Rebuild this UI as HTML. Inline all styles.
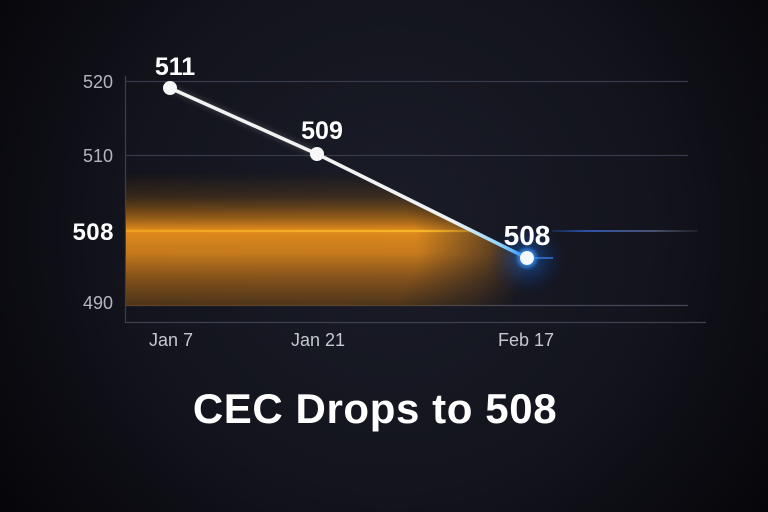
<!DOCTYPE html>
<html><head><meta charset="utf-8"><style>
html,body{margin:0;padding:0;background:#0b0b10;}
svg{display:block;}
text{font-family:"Liberation Sans",sans-serif;}
</style></head><body>
<svg width="768" height="512" viewBox="0 0 768 512" xmlns="http://www.w3.org/2000/svg">
<defs>
  <radialGradient id="bg" cx="390" cy="230" r="470" gradientUnits="userSpaceOnUse">
    <stop offset="0" stop-color="#1a1c28"/>
    <stop offset="0.55" stop-color="#13141d"/>
    <stop offset="1" stop-color="#06060a"/>
  </radialGradient>
  <linearGradient id="og" x1="0" y1="172" x2="0" y2="307" gradientUnits="userSpaceOnUse">
    <stop offset="0" stop-color="#7a4a10" stop-opacity="0"/>
    <stop offset="0.18" stop-color="#8a5512" stop-opacity="0.3"/>
    <stop offset="0.33" stop-color="#b56e16" stop-opacity="0.75"/>
    <stop offset="0.43" stop-color="#e08b1d" stop-opacity="1"/>
    <stop offset="0.6" stop-color="#cf7f1c" stop-opacity="0.95"/>
    <stop offset="0.8" stop-color="#9a5e1a" stop-opacity="0.8"/>
    <stop offset="1" stop-color="#634016" stop-opacity="0.7"/>
  </linearGradient>
  <radialGradient id="hm" cx="250" cy="250" r="280" fx="250" fy="250" gradientUnits="userSpaceOnUse" gradientTransform="translate(250 250) scale(1 0.6) translate(-250 -250)">
    <stop offset="0" stop-color="#fff" stop-opacity="1"/>
    <stop offset="0.6" stop-color="#fff" stop-opacity="1"/>
    <stop offset="0.85" stop-color="#fff" stop-opacity="0.45"/>
    <stop offset="1" stop-color="#fff" stop-opacity="0"/>
  </radialGradient>
  <mask id="m1"><rect x="0" y="0" width="768" height="512" fill="url(#hm)"/></mask>
  <clipPath id="below"><polygon points="126,0 126,88 170,88 317,154 527,258 560,258 560,306 126,306"/></clipPath>
  <linearGradient id="lineg" x1="317" y1="0" x2="527" y2="0" gradientUnits="userSpaceOnUse">
    <stop offset="0" stop-color="#f2f2f2"/>
    <stop offset="0.65" stop-color="#f0f2f4"/>
    <stop offset="0.87" stop-color="#8fd4ff"/>
    <stop offset="1" stop-color="#2a8cff"/>
  </linearGradient>
  <linearGradient id="blueline" x1="550" y1="0" x2="698" y2="0" gradientUnits="userSpaceOnUse">
    <stop offset="0" stop-color="#2a6cff" stop-opacity="0.2"/>
    <stop offset="0.25" stop-color="#3a6ee8" stop-opacity="0.9"/>
    <stop offset="0.7" stop-color="#6a7ca8" stop-opacity="0.8"/>
    <stop offset="1" stop-color="#6a6e80" stop-opacity="0.2"/>
  </linearGradient>
  <linearGradient id="orl" x1="126" y1="0" x2="475" y2="0" gradientUnits="userSpaceOnUse">
    <stop offset="0" stop-color="#f0a020"/>
    <stop offset="0.85" stop-color="#f6b628"/>
    <stop offset="1" stop-color="#f6b628" stop-opacity="0.3"/>
  </linearGradient>
  <radialGradient id="bglow" cx="527" cy="258" r="38" gradientUnits="userSpaceOnUse">
    <stop offset="0" stop-color="#2a8cff" stop-opacity="0.75"/>
    <stop offset="0.3" stop-color="#1a6ae0" stop-opacity="0.35"/>
    <stop offset="1" stop-color="#0a2a70" stop-opacity="0"/>
  </radialGradient>
  <filter id="blur2" x="-20%" y="-50%" width="140%" height="200%"><feGaussianBlur stdDeviation="1.5"/></filter>
  <filter id="soft" x="-10%" y="-10%" width="120%" height="120%"><feGaussianBlur stdDeviation="3"/></filter>
</defs>

<rect x="0" y="0" width="768" height="512" fill="url(#bg)"/>

<!-- gridlines -->
<g stroke="#363947" stroke-width="1.2">
  <line x1="126" y1="81.5" x2="688" y2="81.5"/>
  <line x1="126" y1="155.5" x2="688" y2="155.5"/>
  <line x1="126" y1="305.5" x2="688" y2="305.5" stroke="#454857"/>
</g>
<!-- axes -->
<line x1="125.5" y1="76" x2="125.5" y2="323" stroke="#3a3d4a" stroke-width="1.3"/>
<line x1="125" y1="322.5" x2="706" y2="322.5" stroke="#3e414e" stroke-width="1.3"/>

<!-- orange glow -->
<g clip-path="url(#below)">
  <rect x="126" y="172" width="420" height="134" fill="url(#og)" mask="url(#m1)"/>
</g>
<!-- orange line -->
<line x1="126" y1="231" x2="474" y2="231" stroke="#f4a61e" stroke-width="5" opacity="0.5" filter="url(#blur2)"/>
<line x1="126" y1="231" x2="474" y2="231" stroke="url(#orl)" stroke-width="2.2"/>

<!-- blue right line -->
<line x1="552" y1="231" x2="698" y2="231" stroke="url(#blueline)" stroke-width="1.6"/>

<!-- blue glow -->
<circle cx="527" cy="258" r="38" fill="url(#bglow)"/>
<line x1="527" y1="258" x2="553" y2="258" stroke="#3a8cff" stroke-width="1.6" opacity="0.8"/>

<!-- main line -->
<polyline points="170,88 317,154" fill="none" stroke="#ffffff" stroke-width="6" opacity="0.15" filter="url(#soft)"/>
<polyline points="170,88 317,154" fill="none" stroke="#f2f2f2" stroke-width="3.6" stroke-linecap="round"/>
<polyline points="317,154 527,258" fill="none" stroke="url(#lineg)" stroke-width="3.6" stroke-linecap="round"/>

<!-- points -->
<circle cx="170" cy="88" r="7" fill="#f7f7f7"/>
<circle cx="317" cy="154" r="7" fill="#f7f7f7"/>
<circle cx="527" cy="258" r="10" fill="#3a9cff" opacity="0.6" filter="url(#blur2)"/>
<circle cx="527" cy="258" r="7" fill="#f4f8ff"/>

<!-- point labels -->
<g fill="#ffffff" font-weight="bold" text-anchor="middle">
  <text x="175" y="75" font-size="25">511</text>
  <text x="322" y="139" font-size="25">509</text>
  <text x="527" y="245" font-size="28">508</text>
</g>

<!-- y labels -->
<g fill="#b4b6bf" font-size="18" text-anchor="end">
  <text x="113" y="88">520</text>
  <text x="113" y="162">510</text>
  <text x="113" y="309">490</text>
</g>
<text x="114" y="240" fill="#ffffff" font-size="24" font-weight="bold" text-anchor="end" letter-spacing="0.5">508</text>

<!-- x labels -->
<g fill="#c6c8cf" font-size="18" text-anchor="middle">
  <text x="171" y="346">Jan 7</text>
  <text x="318" y="346">Jan 21</text>
  <text x="526" y="346">Feb 17</text>
</g>

<!-- title -->
<text x="375" y="423" fill="#ffffff" font-size="42" font-weight="bold" text-anchor="middle" letter-spacing="0.6">CEC Drops to 508</text>
</svg>
</body></html>
